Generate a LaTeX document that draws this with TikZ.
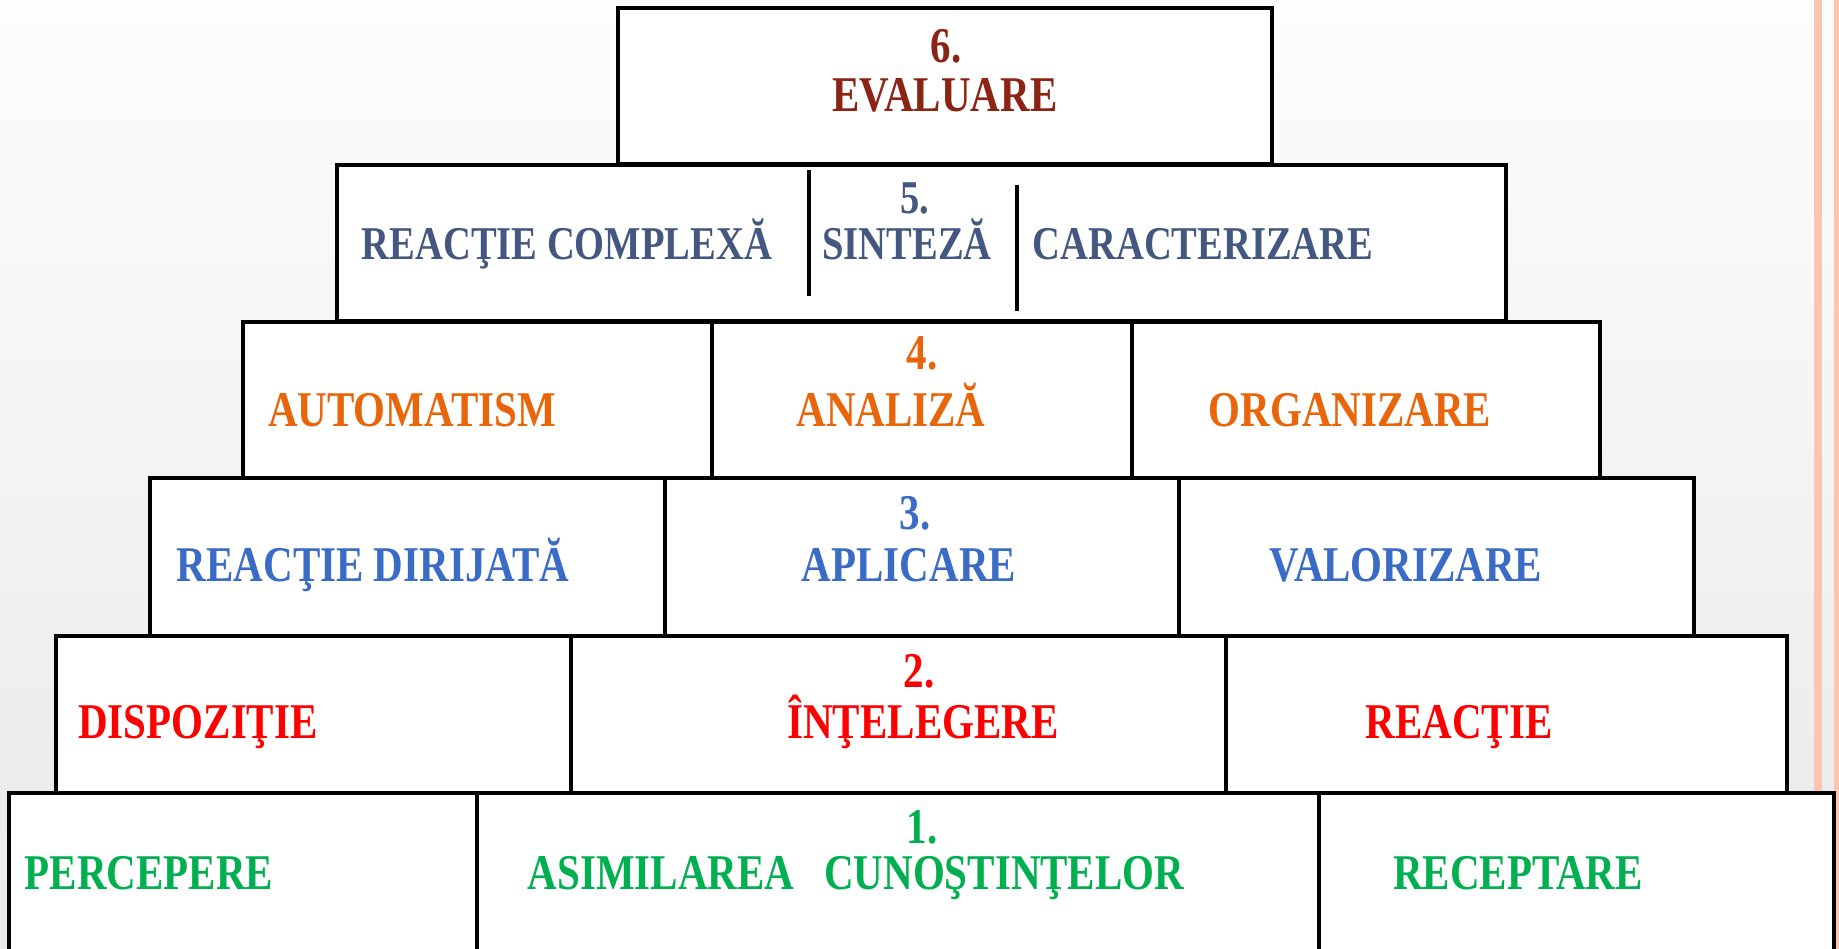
\documentclass[tikz,border=0pt]{standalone}
\usepackage{fontspec}
\setmainfont{Liberation Serif}[FakeStretch=0.82]
\definecolor{bgtop}{HTML}{FDFDFD}
\definecolor{bgbot}{HTML}{E9E9E9}
\definecolor{stripe}{HTML}{FBC5AF}
\definecolor{c6}{HTML}{8C2414}
\definecolor{c5}{HTML}{435781}
\definecolor{c4}{HTML}{E8650A}
\definecolor{c3}{HTML}{3A6BC6}
\definecolor{c2}{HTML}{FF0000}
\definecolor{c1}{HTML}{00B050}
\tikzset{
  cell/.style={draw=black, line width=3.2pt, fill=white, rectangle, inner sep=0pt, outer sep=0pt},
  divider/.style={line width=3.2pt},
  lab/.style={anchor=base, inner sep=0pt, font=\bfseries\fontsize{50}{60}\selectfont},
  labsm/.style={anchor=base, inner sep=0pt, font=\bfseries\fontsize{47}{56}\selectfont},
}
\begin{document}
\begin{tikzpicture}[x=1pt, y=-1pt]
\useasboundingbox (0,0) rectangle (1839,949);
% background
\shade[top color=bgtop, bottom color=bgbot] (0,0) rectangle (1839,949);
\fill[stripe] (1814,0) rectangle (1822,949);
\fill[stripe] (1834,0) rectangle (1839,949);
% row 6
\node[cell, minimum width=654pt, minimum height=156pt] (r6) at (945,86) {};
% row 5
\node[cell, minimum width=1169pt, minimum height=156pt] (r5) at (921.5,243) {};
% row 4
\node[cell, minimum width=469pt, minimum height=156pt] (r4a) at (477.5,400) {};
\node[cell, minimum width=420pt, minimum height=156pt] (r4b) at (922,400) {};
\node[cell, minimum width=468pt, minimum height=156pt] (r4c) at (1366,400) {};
% row 3
\node[cell, minimum width=515pt, minimum height=158pt] (r3a) at (407.5,557) {};
\node[cell, minimum width=514pt, minimum height=158pt] (r3b) at (922,557) {};
\node[cell, minimum width=515pt, minimum height=158pt] (r3c) at (1436.5,557) {};
% row 2
\node[cell, minimum width=515pt, minimum height=157pt] (r2a) at (313.5,714.5) {};
\node[cell, minimum width=655pt, minimum height=157pt] (r2b) at (898.5,714.5) {};
\node[cell, minimum width=561pt, minimum height=157pt] (r2c) at (1506.5,714.5) {};
% row 1
\node[cell, minimum width=468pt, minimum height=167pt] (r1a) at (243,876.5) {};
\node[cell, minimum width=842pt, minimum height=167pt] (r1b) at (898,876.5) {};
\node[cell, minimum width=515pt, minimum height=167pt] (r1c) at (1576.5,876.5) {};
% row 5 dividers
\coordinate (d1t) at (809,170);
\coordinate (d1b) at (809,296);
\coordinate (d2t) at (1017,185);
\coordinate (d2b) at (1017,311);
\draw[divider] (d1t) -- (d1b);
\draw[divider] (d2t) -- (d2b);
% labels row 6
\node[lab, text=c6] (n6) at (946,63) {6.};
\node[lab, text=c6] (t6) at (945,112) {EVALUARE};
% row 5
\node[labsm, text=c5] (n5) at (915,214) {5.};
\node[labsm, text=c5] (t5a) at (567,260) {REACŢIE COMPLEXĂ};
\node[labsm, text=c5] (t5b) at (907,260) {SINTEZĂ};
\node[labsm, text=c5] (t5c) at (1203,260) {CARACTERIZARE};
% row 4
\node[lab, text=c4] (n4) at (922,370) {4.};
\node[lab, text=c4] (t4a) at (412,426) {AUTOMATISM};
\node[lab, text=c4] (t4b) at (891,426) {ANALIZĂ};
\node[lab, text=c4] (t4c) at (1350,426) {ORGANIZARE};
% row 3
\node[lab, text=c3] (n3) at (915,529) {3.};
\node[lab, text=c3] (t3a) at (373,581) {REACŢIE DIRIJATĂ};
\node[lab, text=c3] (t3b) at (909,581) {APLICARE};
\node[lab, text=c3] (t3c) at (1406,581) {VALORIZARE};
% row 2
\node[lab, text=c2] (n2) at (919,687) {2.};
\node[lab, text=c2] (t2a) at (198,738) {DISPOZIŢIE};
\node[lab, text=c2] (t2b) at (923,738) {ÎNŢELEGERE};
\node[lab, text=c2] (t2c) at (1459,738) {REACŢIE};
% row 1
\node[lab, text=c1] (n1) at (922,843) {1.};
\node[lab, text=c1] (t1a) at (149,889) {PERCEPERE};
\node[lab, text=c1] (t1b) at (856,889) {ASIMILAREA\hspace{0.6em}CUNOŞTINŢELOR};
\node[lab, text=c1] (t1c) at (1518,889) {RECEPTARE};
\end{tikzpicture}
\end{document}
